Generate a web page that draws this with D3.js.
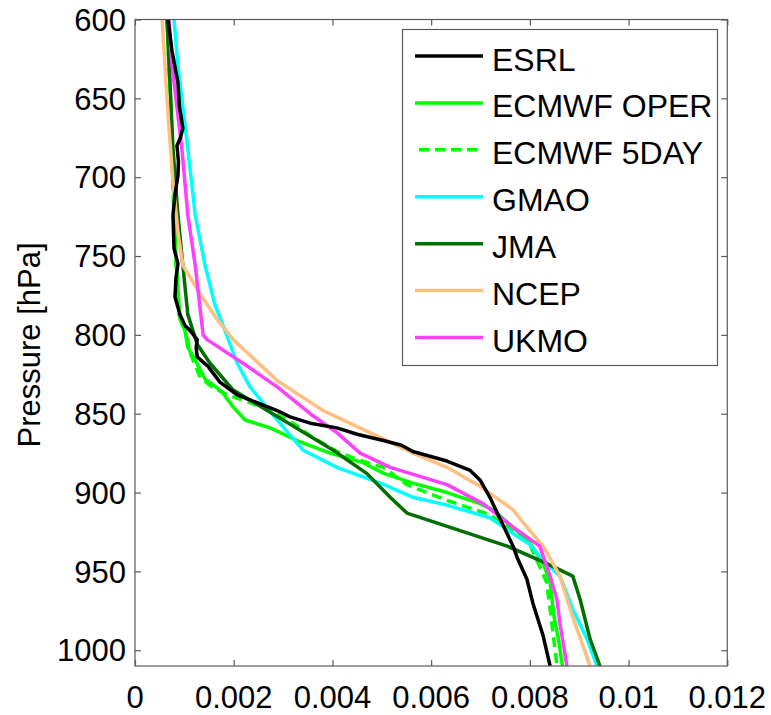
<!DOCTYPE html>
<html>
<head>
<meta charset="utf-8">
<script src="https://cdn.jsdelivr.net/npm/d3@7"></script>
<style>
    body { margin: 0; background: #fff; }
    text { font-family: "Liberation Sans", Arial, sans-serif; fill: #000; }
</style>
</head>
<body>
<svg id="chart" width="771" height="715"></svg>
<script>
// specific humidity profiles, pressure in hPa
var esrlP = [600, 620, 640, 655, 669, 675, 680, 690, 699, 711, 724, 735, 745, 755, 764, 776, 787, 794, 797, 803, 808, 814, 820, 830, 838, 843, 848, 852, 856, 859, 863, 867, 870, 874, 880, 886, 892, 903, 917, 934, 941, 955, 970, 991, 1010];
var esrlQ = [0.00067, 0.00075, 0.00087, 0.00090, 0.00097, 0.00092, 0.00085, 0.00088, 0.00087, 0.00081, 0.00077, 0.00078, 0.00079, 0.00087, 0.00083, 0.00081, 0.00091, 0.00101, 0.00111, 0.00126, 0.00124, 0.00126, 0.00148, 0.00172, 0.00207, 0.00247, 0.00288, 0.00314, 0.00355, 0.00409, 0.00450, 0.00503, 0.00540, 0.00563, 0.00632, 0.00679, 0.00699, 0.00719, 0.00740, 0.00766, 0.00774, 0.00794, 0.00806, 0.00827, 0.00841];

var operP = [600, 650, 700, 750, 790, 797, 808, 816, 828, 836, 845, 854, 859, 867, 875, 881, 888, 894, 900, 907, 911, 922, 932, 945, 957, 979, 993, 1010];
var operQ = [0.00065, 0.00072, 0.00077, 0.00083, 0.00091, 0.00101, 0.00107, 0.00122, 0.00142, 0.00176, 0.00197, 0.00223, 0.00274, 0.00328, 0.00395, 0.00462, 0.00505, 0.00563, 0.00632, 0.00699, 0.00725, 0.00766, 0.00800, 0.00827, 0.00841, 0.00849, 0.00858, 0.00866];

var fiveP = [600, 650, 700, 750, 790, 799, 811, 827, 833, 838, 843, 848, 856, 864, 874, 879, 884, 895, 905, 914, 924, 933, 957, 979, 1010];
var fiveQ = [0.00065, 0.00071, 0.00076, 0.00082, 0.00090, 0.00105, 0.00111, 0.00132, 0.00156, 0.00187, 0.00233, 0.00274, 0.00320, 0.00355, 0.00409, 0.00450, 0.00503, 0.00551, 0.00632, 0.00719, 0.00766, 0.00800, 0.00834, 0.00843, 0.00855];

var gmaoP = [600, 629, 682, 724, 756, 781, 792, 818, 833, 854, 873, 884, 890, 895, 903, 908, 916, 926, 933, 943, 953, 974, 993, 1010];
var gmaoQ = [0.00079, 0.00087, 0.00107, 0.00122, 0.00142, 0.00162, 0.00176, 0.00207, 0.00233, 0.00288, 0.00340, 0.00409, 0.00462, 0.00505, 0.00563, 0.00632, 0.00719, 0.00766, 0.00800, 0.00827, 0.00861, 0.00887, 0.00916, 0.00936];

var jmaP = [600, 682, 724, 756, 787, 806, 818, 835, 854, 873, 888, 903, 913, 934, 944, 953, 968, 993, 1010];
var jmaQ = [0.00065, 0.00077, 0.00087, 0.00097, 0.00107, 0.00126, 0.00152, 0.00199, 0.00300, 0.00401, 0.00470, 0.00517, 0.00551, 0.00754, 0.00827, 0.00887, 0.00902, 0.00922, 0.00942];

var ncepP = [600, 661, 703, 735, 756, 776, 790, 803, 829, 848, 866, 875, 884, 896, 911, 922, 934, 953, 979, 1010];
var ncepQ = [0.00055, 0.00067, 0.00077, 0.00087, 0.00097, 0.00136, 0.00166, 0.00199, 0.00288, 0.00381, 0.00503, 0.00563, 0.00632, 0.00699, 0.00766, 0.00794, 0.00827, 0.00861, 0.00887, 0.00922];

var ukmoP = [600, 629, 682, 724, 756, 800, 803, 818, 833, 850, 862, 875, 884, 895, 907, 922, 934, 953, 968, 983, 1010];
var ukmoQ = [0.00069, 0.00075, 0.00095, 0.00107, 0.00122, 0.00138, 0.00146, 0.00219, 0.00288, 0.00355, 0.00409, 0.00456, 0.00517, 0.00632, 0.00705, 0.00766, 0.00820, 0.00841, 0.00855, 0.00861, 0.00875];

var seriesNames = ["ESRL", "ECMWF OPER", "ECMWF 5DAY", "GMAO", "JMA", "NCEP", "UKMO"];
var seriesColors = ["#000000", "#00ff00", "#00ff00", "#00ffff", "#006e00", "#ffbf80", "#ff40ff"];
var seriesDash = [null, null, "10,6", null, null, null, null];

var xTicks = [0, 0.002, 0.004, 0.006, 0.008, 0.01, 0.012];
var xTickLabels = ["0", "0.002", "0.004", "0.006", "0.008", "0.01", "0.012"];
var yTicks = [600, 650, 700, 750, 800, 850, 900, 950, 1000];

var plotLeft = 135, plotTop = 19.5, plotRight = 727.3, plotBottom = 666;

var svg = d3.select("#chart");
var x = d3.scaleLinear().domain([0, 0.012]).range([plotLeft, plotRight]);
var y = d3.scaleLinear().domain([600, 1010]).range([plotTop, plotBottom]);

function zip(ps, qs) {
    var pts = [];
    for (var i = 0; i < ps.length; i++) {
        pts.push({ p: ps[i], q: qs[i] });
    }
    return pts;
}

var allData = [
    zip(esrlP, esrlQ),
    zip(operP, operQ),
    zip(fiveP, fiveQ),
    zip(gmaoP, gmaoQ),
    zip(jmaP, jmaQ),
    zip(ncepP, ncepQ),
    zip(ukmoP, ukmoQ)
];

svg.append("clipPath").attr("id", "plotclip")
    .append("rect")
    .attr("x", plotLeft).attr("y", plotTop)
    .attr("width", plotRight - plotLeft).attr("height", plotBottom - plotTop);

var line = d3.line()
    .x(function(d) { return x(d.q); })
    .y(function(d) { return y(d.p); });

// models first, ESRL drawn on top
var order = [1, 2, 3, 4, 5, 6, 0];
var plot = svg.append("g").attr("clip-path", "url(#plotclip)");
order.forEach(function(i) {
    plot.append("path")
        .attr("d", line(allData[i]))
        .attr("fill", "none")
        .attr("stroke", seriesColors[i])
        .attr("stroke-width", 3.5)
        .attr("stroke-linejoin", "round")
        .attr("stroke-dasharray", seriesDash[i]);
});

// axes, matlab style box with inward ticks
var axisColor = "#5a5a5a";
var bottomAxis = d3.axisBottom(x).tickValues(xTicks).tickSize(-6).tickFormat("");
var topAxis = d3.axisTop(x).tickValues(xTicks).tickSize(-6).tickFormat("");
var leftAxis = d3.axisLeft(y).tickValues(yTicks).tickSize(-6).tickFormat("");
var rightAxis = d3.axisRight(y).tickValues(yTicks).tickSize(-6).tickFormat("");

function styleAxis(g) {
    g.select(".domain").remove();
    g.selectAll(".tick line").attr("stroke", axisColor).attr("stroke-width", 1.2);
}

svg.append("g").attr("transform", "translate(0," + plotBottom + ")").call(bottomAxis).call(styleAxis);
svg.append("g").attr("transform", "translate(0," + plotTop + ")").call(topAxis).call(styleAxis);
svg.append("g").attr("transform", "translate(" + plotLeft + ",0)").call(leftAxis).call(styleAxis);
svg.append("g").attr("transform", "translate(" + plotRight + ",0)").call(rightAxis).call(styleAxis);
svg.append("rect")
    .attr("x", plotLeft).attr("y", plotTop)
    .attr("width", plotRight - plotLeft).attr("height", plotBottom - plotTop)
    .attr("fill", "none").attr("stroke", axisColor).attr("stroke-width", 1.2);

// tick labels
svg.selectAll(".xlab")
    .data(xTicks)
    .enter()
    .append("text")
    .attr("class", "xlab")
    .attr("x", function(d) { return x(d); })
    .attr("y", 708)
    .attr("text-anchor", "middle")
    .style("font-size", "31px")
    .text(function(d, i) { return xTickLabels[i]; });

svg.selectAll(".ylab")
    .data(yTicks)
    .enter()
    .append("text")
    .attr("class", "ylab")
    .attr("x", 126)
    .attr("y", function(d) { return y(d); })
    .attr("dy", "0.36em")
    .attr("text-anchor", "end")
    .style("font-size", "31px")
    .text(function(d) { return d; });

svg.append("text")
    .attr("transform", "translate(40,345) rotate(-90)")
    .attr("text-anchor", "middle")
    .style("font-size", "31px")
    .text("Pressure [hPa]");

// legend
var legend = svg.append("g");
legend.append("rect")
    .attr("x", 402.5).attr("y", 29.5)
    .attr("width", 315).attr("height", 336)
    .attr("fill", "#fff")
    .attr("stroke", axisColor).attr("stroke-width", 1.2);

var rowY = d3.scaleLinear().domain([0, 6]).range([56, 337.5]);
seriesNames.forEach(function(name, i) {
    legend.append("line")
        .attr("x1", seriesDash[i] ? 419 : 415).attr("x2", 483)
        .attr("y1", rowY(i)).attr("y2", rowY(i))
        .attr("stroke", seriesColors[i])
        .attr("stroke-width", 3.5)
        .attr("stroke-dasharray", seriesDash[i]);
    legend.append("text")
        .attr("x", 492)
        .attr("y", rowY(i) + 14.5)
        .style("font-size", "32px")
        .text(name);
});
</script>
</body>
</html>
